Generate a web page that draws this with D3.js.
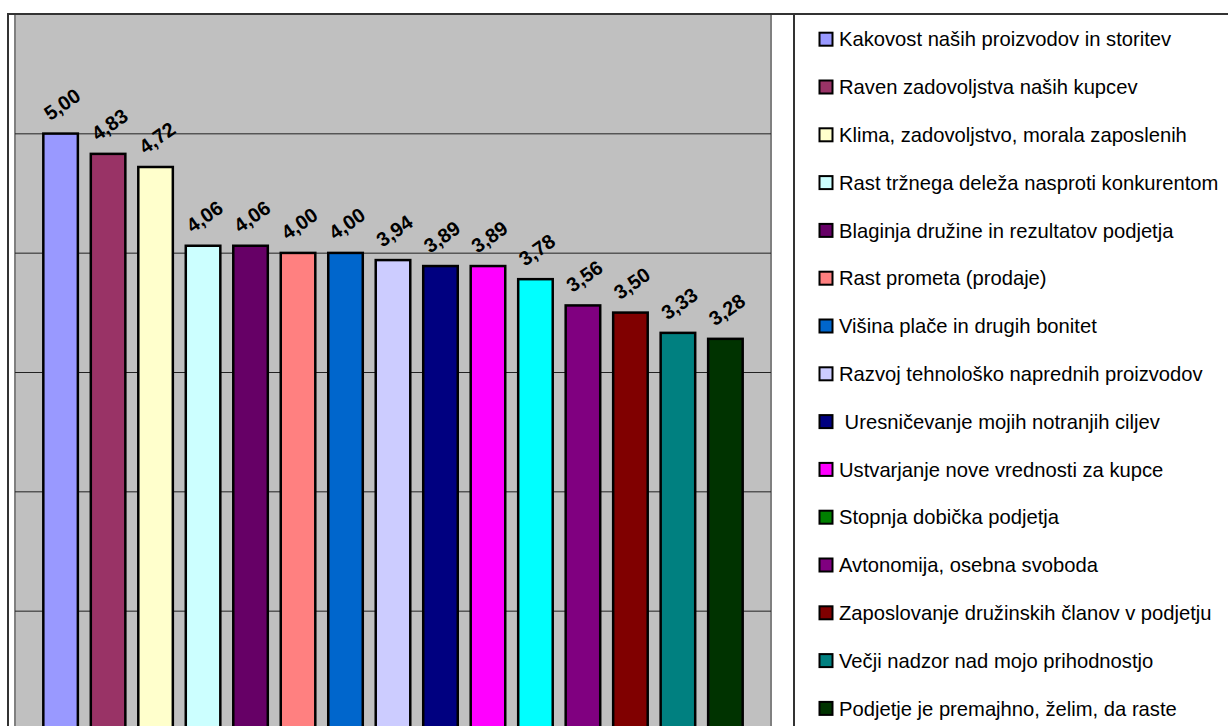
<!DOCTYPE html>
<html>
<head>
<meta charset="utf-8">
<script src="https://cdn.jsdelivr.net/npm/d3@7"></script>
<style>
  html, body { margin: 0; padding: 0; background: #fff; }
  svg { display: block; }
  text { font-family: "Liberation Sans", Arial, sans-serif; }
</style>
</head>
<body>
<svg id="chart" width="1228" height="726"></svg>
<script>
// Motivation factors, average scores (1–5 scale)
const categories = [
  "Kakovost naših proizvodov in storitev",
  "Raven zadovoljstva naših kupcev",
  "Klima, zadovoljstvo, morala zaposlenih",
  "Rast tržnega deleža nasproti konkurentom",
  "Blaginja družine in rezultatov podjetja",
  "Rast prometa (prodaje)",
  "Višina plače in drugih bonitet",
  "Razvoj tehnološko naprednih proizvodov",
  " Uresničevanje mojih notranjih ciljev",
  "Ustvarjanje nove vrednosti za kupce",
  "Stopnja dobička podjetja",
  "Avtonomija, osebna svoboda",
  "Zaposlovanje družinskih članov v podjetju",
  "Večji nadzor nad mojo prihodnostjo",
  "Podjetje je premajhno, želim, da raste"
];
const values = [5.00, 4.83, 4.72, 4.06, 4.06, 4.00, 4.00, 3.94, 3.89, 3.89, 3.78, 3.56, 3.50, 3.33, 3.28];
const barColors = [
  "#9999FF", "#993366", "#FFFFCC", "#CCFFFF", "#660066",
  "#FF8080", "#0066CC", "#CCCCFF", "#000080", "#FF00FF",
  "#00FFFF", "#800080", "#800000", "#008080", "#003300"
];
const legendColors = [
  "#9999FF", "#993366", "#FFFFCC", "#CCFFFF", "#660066",
  "#FF8080", "#0066CC", "#CCCCFF", "#000080", "#FF00FF",
  "#008000", "#800080", "#800000", "#008080", "#003300"
];
const gridValues = [1, 2, 3, 4, 5, 6];
const yDomain = [0, 6];

const svg = d3.select("#chart");
const W = 1228, H = 726;

const plot = { left: 15, right: 771, top: 14, bottom: 730 };
const legendBox = { left: 794, top: 14 };

const fmt = d3.formatLocale({ decimal: ",", thousands: ".", grouping: [3], currency: ["", " €"] }).format(".2f");

// outer chart frame
svg.append("rect")
  .attr("x", 8).attr("y", 14)
  .attr("width", W + 20).attr("height", H + 20)
  .attr("fill", "#fff").attr("stroke", "#333").attr("stroke-width", 2);

// plot area
svg.append("rect")
  .attr("x", plot.left).attr("y", plot.top)
  .attr("width", plot.right - plot.left).attr("height", plot.bottom - plot.top + 10)
  .attr("fill", "#C0C0C0").attr("stroke", "#808080").attr("stroke-width", 2);

const x = d3.scaleBand()
  .domain(d3.range(values.length))
  .range([plot.left, plot.right])
  .paddingInner(0.22)
  .paddingOuter(0.57);

const y = d3.scaleLinear().domain(yDomain).range([plot.bottom, plot.top]);

// horizontal gridlines
svg.append("g")
  .attr("transform", `translate(${plot.left},0)`)
  .call(d3.axisLeft(y).tickValues(gridValues).tickSize(-(plot.right - plot.left)).tickFormat(""))
  .call(g => g.select(".domain").remove())
  .call(g => g.selectAll(".tick line").attr("stroke", "#222").attr("stroke-width", 1));

// top border line across the whole chart
svg.append("line")
  .attr("x1", 8).attr("x2", W).attr("y1", 14).attr("y2", 14)
  .attr("stroke", "#333").attr("stroke-width", 2);

// bars
const sw = 2.5;
svg.append("g").selectAll("rect")
  .data(values)
  .join("rect")
  .attr("x", (d, i) => x(i) + sw / 2)
  .attr("y", d => y(d) + sw / 2 - 1)
  .attr("width", x.bandwidth() - sw)
  .attr("height", d => plot.bottom - y(d) + 20)
  .attr("fill", (d, i) => barColors[i])
  .attr("stroke", "#000")
  .attr("stroke-width", sw);

// rotated value labels
svg.append("g").selectAll("text")
  .data(values)
  .join("text")
  .attr("transform", (d, i) => `translate(${x(i) + x.bandwidth() / 2 + 1.5},${y(d) - 29}) rotate(-35)`)
  .attr("text-anchor", "middle")
  .attr("dominant-baseline", "central")
  .attr("font-size", 20)
  .attr("font-weight", "bold")
  .attr("fill", "#000")
  .text(d => fmt(d));

// legend box
svg.append("rect")
  .attr("x", legendBox.left).attr("y", legendBox.top)
  .attr("width", W).attr("height", H)
  .attr("fill", "#fff").attr("stroke", "#333").attr("stroke-width", 2);

const rowY = d3.scalePoint().domain(d3.range(categories.length)).range([39.2, 708.4]);
const leg = svg.append("g").selectAll("g")
  .data(categories)
  .join("g")
  .attr("transform", (d, i) => `translate(0,${rowY(i)})`);

leg.append("rect")
  .attr("x", 819.5).attr("y", -6.5)
  .attr("width", 13).attr("height", 13)
  .attr("fill", (d, i) => legendColors[i])
  .attr("stroke", "#000").attr("stroke-width", 2);

leg.append("text")
  .attr("x", 839)
  .attr("y", 7.2)
  .attr("font-size", 20.2)
  .attr("fill", "#000")
  .style("white-space", "pre")
  .text(d => d);
</script>
</body>
</html>
